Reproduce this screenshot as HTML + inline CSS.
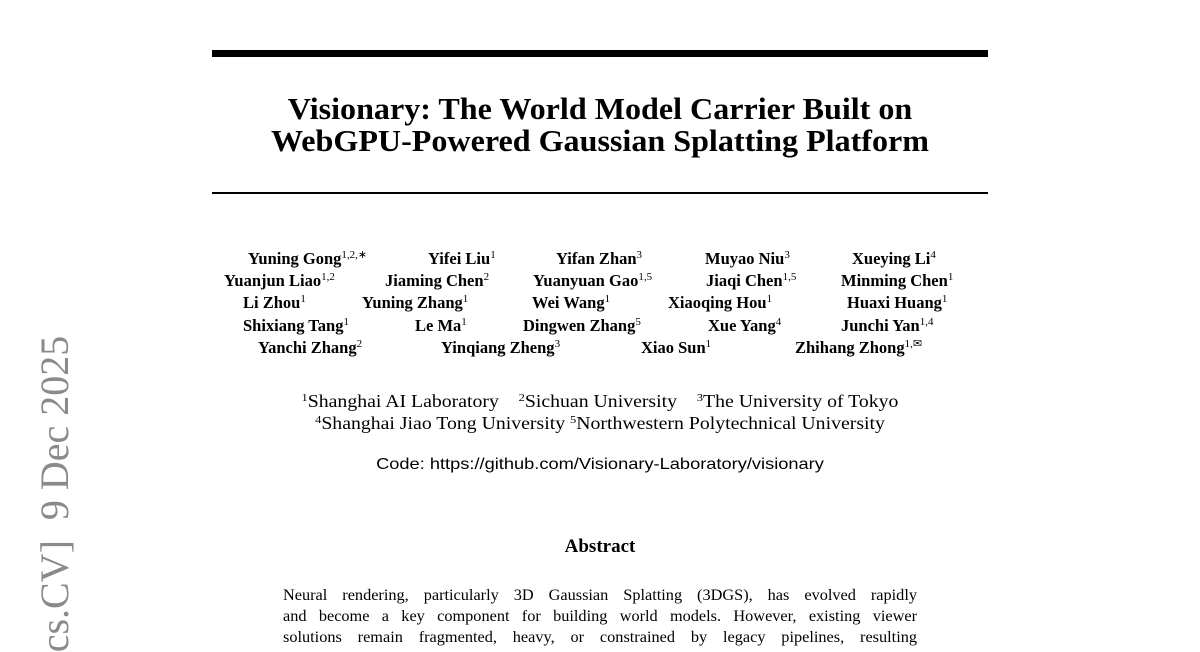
<!DOCTYPE html>
<html><head><meta charset="utf-8"><style>
body{margin:0;width:1200px;height:648px;background:#fff;position:relative;overflow:hidden;font-family:"Liberation Serif",serif;color:#000}
.a{position:absolute;white-space:nowrap}
.c{position:absolute;left:0;width:1200px;text-align:center;white-space:nowrap}
.au{position:absolute;white-space:nowrap;font-weight:bold;font-size:16.5px;line-height:18px}
sup{font-size:11px;font-weight:normal;vertical-align:6px;line-height:0}
.body{position:absolute;left:283px;width:634px;font-size:16.3px;line-height:21.3px;text-align:justify;text-align-last:justify;transform-origin:0 0}
</style></head><body>
<div class="a" style="left:212px;top:50px;width:776px;height:7px;background:#000"></div>
<div class="c" style="top:93px;font-size:31px;font-weight:bold;line-height:32px;transform:scaleX(1.035)">Visionary: The World Model Carrier Built on<br>WebGPU-Powered Gaussian Splatting Platform</div>
<div class="a" style="left:212px;top:192px;width:776px;height:1.5px;background:#000"></div>

<div class="au" style="left:248px;top:250px">Yuning Gong<sup>1,2,∗</sup></div>
<div class="au" style="left:428px;top:250px">Yifei Liu<sup>1</sup></div>
<div class="au" style="left:556px;top:250px">Yifan Zhan<sup>3</sup></div>
<div class="au" style="left:705px;top:250px">Muyao Niu<sup>3</sup></div>
<div class="au" style="left:852px;top:250px">Xueying Li<sup>4</sup></div>

<div class="au" style="left:224px;top:272px">Yuanjun Liao<sup>1,2</sup></div>
<div class="au" style="left:385px;top:272px">Jiaming Chen<sup>2</sup></div>
<div class="au" style="left:533px;top:272px">Yuanyuan Gao<sup>1,5</sup></div>
<div class="au" style="left:706px;top:272px">Jiaqi Chen<sup>1,5</sup></div>
<div class="au" style="left:841px;top:272px">Minming Chen<sup>1</sup></div>

<div class="au" style="left:243px;top:294px">Li Zhou<sup>1</sup></div>
<div class="au" style="left:362px;top:294px">Yuning Zhang<sup>1</sup></div>
<div class="au" style="left:532px;top:294px">Wei Wang<sup>1</sup></div>
<div class="au" style="left:668px;top:294px">Xiaoqing Hou<sup>1</sup></div>
<div class="au" style="left:847px;top:294px">Huaxi Huang<sup>1</sup></div>

<div class="au" style="left:243px;top:317px">Shixiang Tang<sup>1</sup></div>
<div class="au" style="left:415px;top:317px">Le Ma<sup>1</sup></div>
<div class="au" style="left:523px;top:317px">Dingwen Zhang<sup>5</sup></div>
<div class="au" style="left:708px;top:317px">Xue Yang<sup>4</sup></div>
<div class="au" style="left:841px;top:317px">Junchi Yan<sup>1,4</sup></div>

<div class="au" style="left:258px;top:339px">Yanchi Zhang<sup>2</sup></div>
<div class="au" style="left:441px;top:339px">Yinqiang Zheng<sup>3</sup></div>
<div class="au" style="left:641px;top:339px">Xiao Sun<sup>1</sup></div>
<div class="au" style="left:795px;top:339px">Zhihang Zhong<sup>1,✉</sup></div>

<div class="c" style="top:390px;font-size:17.5px;line-height:22px;transform:scaleX(1.13)"><sup>1</sup>Shanghai AI Laboratory &nbsp;&nbsp;&nbsp;<sup>2</sup>Sichuan University &nbsp;&nbsp;&nbsp;<sup>3</sup>The University of Tokyo<br><sup>4</sup>Shanghai Jiao Tong University <sup>5</sup>Northwestern Polytechnical University</div>
<div class="c" style="top:456px;font-size:16px;font-family:'Liberation Sans',sans-serif;line-height:18px;transform:scaleX(1.14)">Code: https://github.com/Visionary-Laboratory/visionary</div>

<div class="c" style="top:537px;font-size:19px;font-weight:bold;line-height:20px">Abstract</div>
<div class="body" style="top:584px">Neural rendering, particularly 3D Gaussian Splatting (3DGS), has evolved rapidly</div>
<div class="body" style="top:605px">and become a key component for building world models. However, existing viewer</div>
<div class="body" style="top:626px">solutions remain fragmented, heavy, or constrained by legacy pipelines, resulting</div>

<div class="a" style="left:55px;top:494px;font-size:40px;color:#8a8a8a;transform:translate(-50%,-50%) rotate(-90deg);line-height:40px">cs.CV]&nbsp;&nbsp;9 Dec 2025</div>
</body></html>
